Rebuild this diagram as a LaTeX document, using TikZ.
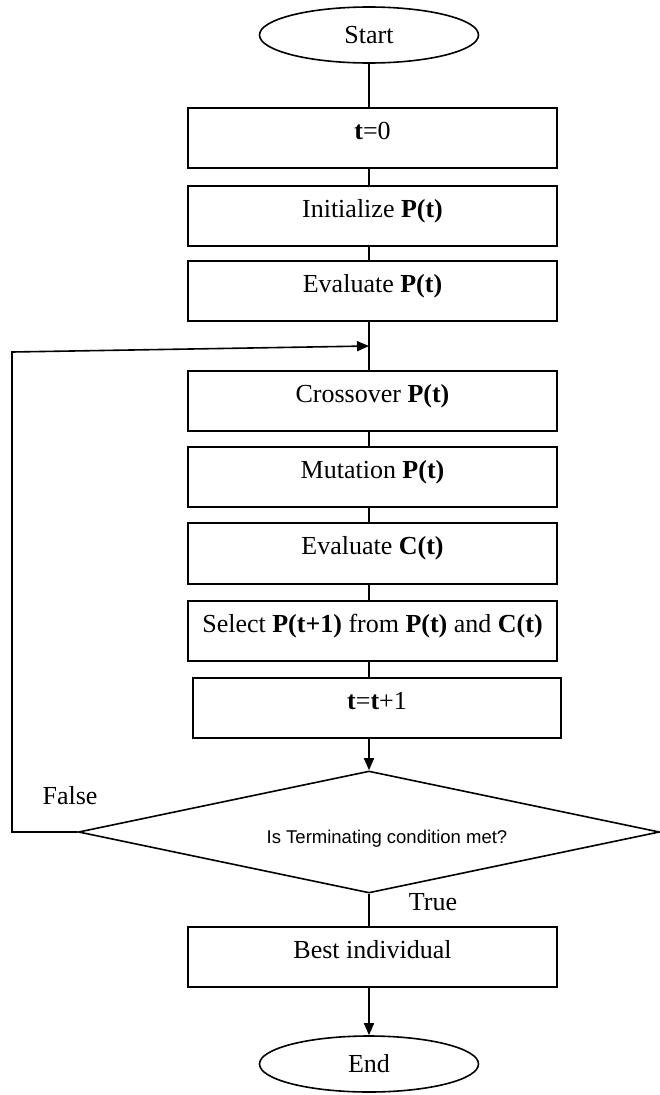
\documentclass[tikz,border=0pt]{standalone}
\usepackage{fontspec}
\setmainfont{Liberation Serif}
\newfontfamily\arialfont{Liberation Sans}
\usetikzlibrary{shapes.geometric,arrows.meta}
\begin{document}
\begin{tikzpicture}[x=1pt,y=-1pt,
  every node/.style={font=\fontsize{26}{31}\selectfont},
  box/.style={draw,line width=1.6pt,minimum width=369pt,minimum height=60pt,inner sep=0pt,text height=0.7em,text depth=0.45em},
  term/.style={draw,ellipse,line width=1.6pt,minimum width=219pt,minimum height=56pt,inner sep=0pt},
  dec/.style={draw,diamond,shape aspect=4.76,line width=1.6pt,minimum width=581pt,minimum height=122pt,inner sep=0pt,text height=22pt,text depth=0pt,font=\arialfont\fontsize{18.5}{22}\selectfont},
  lbl/.style={inner sep=0pt},
  conn/.style={line width=1.6pt},
  arr/.style={conn,-{Triangle[length=12pt,width=10pt]}},
]
\useasboundingbox (0,0) rectangle (659,1095);
\node[term] (start) at (369,35) {Start};
\node[box] (t0) at (372.5,138) {\textbf{t}=0};
\node[box] (init) at (372.5,216) {Initialize \textbf{P(t)}};
\node[box] (evalp) at (372.5,291) {Evaluate \textbf{P(t)}};
\node[box] (cross) at (372.5,401) {Crossover \textbf{P(t)}};
\node[box] (mut) at (372.5,477) {Mutation \textbf{P(t)}};
\node[box,minimum height=61pt] (evalc) at (372.5,553.5) {Evaluate \textbf{C(t)}};
\node[box] (sel) at (372.5,631) {Select \textbf{P(t+1)} from \textbf{P(t)} and \textbf{C(t)}};
\node[box,minimum width=368pt] (tinc) at (377,708) {\textbf{t}=\textbf{t}+1};
\node[dec] (cond) at (369,832) {\hspace*{36pt}Is Terminating condition met?};
\node[box] (best) at (372.5,957) {Best individual};
\node[term] (fin) at (369,1064) {End};
\node[lbl] (lfalse) at (70,796) {False};
\node[lbl] (ltrue) at (433,902) {True};
\coordinate (c1) at (12,832);
\coordinate (c2) at (12,352);
\coordinate (loopin) at (369,346);
\draw[conn] (start.south) -- (start.south |- t0.north);
\draw[conn] (t0.south -| start) -- (init.north -| start);
\draw[conn] (init.south -| start) -- (evalp.north -| start);
\draw[conn] (evalp.south -| start) -- (cross.north -| start);
\draw[conn] (cross.south -| start) -- (mut.north -| start);
\draw[conn] (mut.south -| start) -- (evalc.north -| start);
\draw[conn] (evalc.south -| start) -- (sel.north -| start);
\draw[conn] (sel.south -| start) -- (tinc.north -| start);
\draw[arr] (tinc.south -| cond.north) -- (cond.north);
\draw[conn] (cond.south) -- (best.north -| cond.south);
\draw[arr] (best.south -| fin.north) -- (fin.north);
\draw[arr] (cond.west) -- (c1) -- (c2) -- (loopin);
\end{tikzpicture}
\end{document}
